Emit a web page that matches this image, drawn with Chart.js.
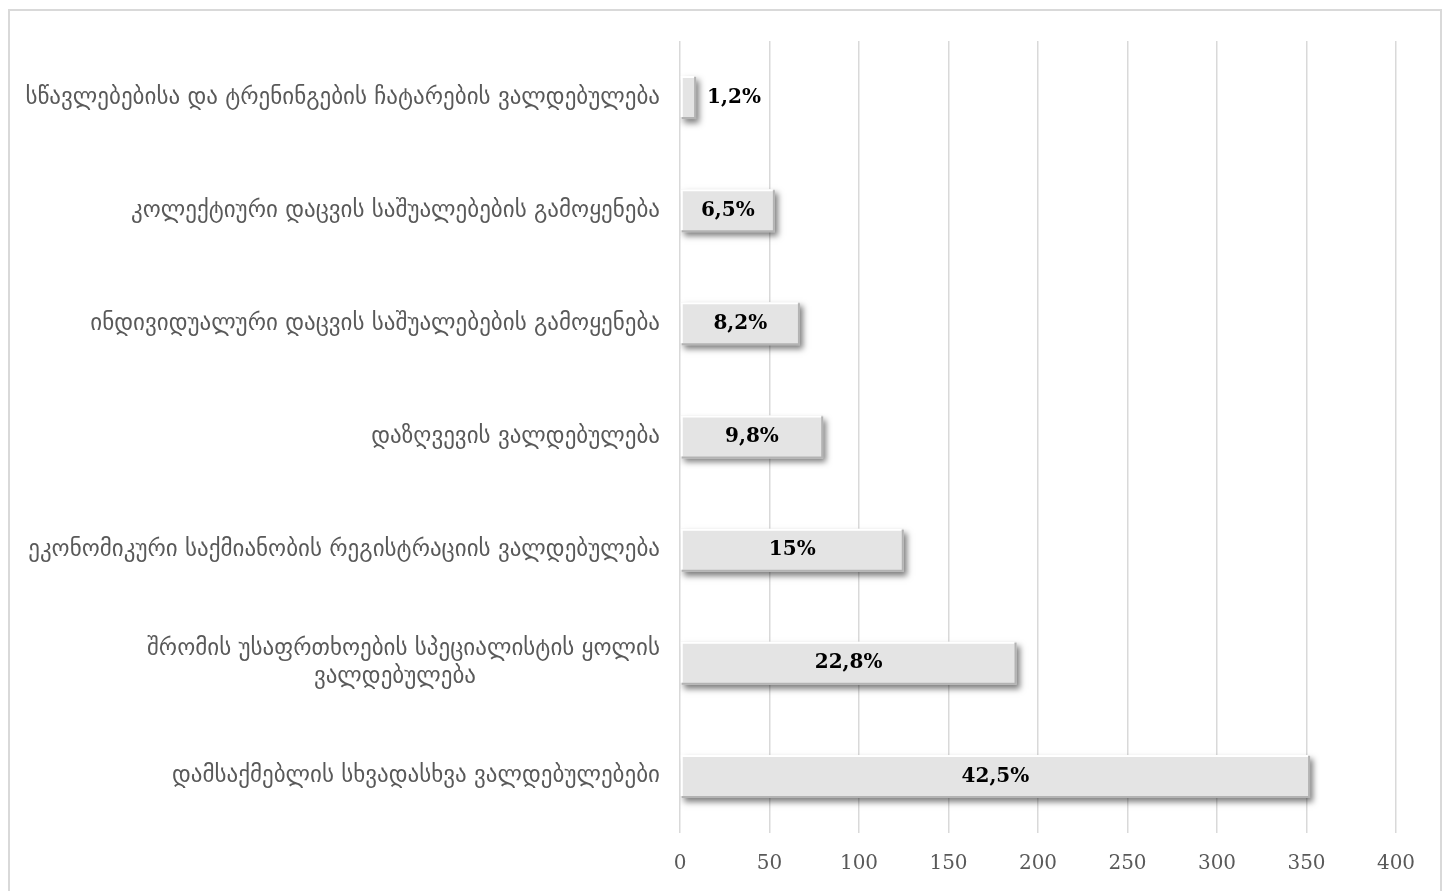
<!DOCTYPE html>
<html>
<head>
<meta charset="utf-8">
<script src="https://cdn.jsdelivr.net/npm/chart.js@4.4.1/dist/chart.umd.min.js"></script>
<style>
    html, body { margin: 0; padding: 0; background: #fff; overflow: hidden; }
    .frame {
        position: absolute; left: 8px; top: 9px; width: 1434px; height: 900px;
        border: 2px solid #d9d9d9; box-sizing: border-box;
    }
    .chart-container { position: absolute; left: 0; top: 0; width: 1452px; height: 891px; }
</style>
</head>
<body>
<div class="frame"></div>
<div class="chart-container"><canvas id="obligationsChart"></canvas></div>
<script>
// Chart data
const categories = [
    'სწავლებებისა და ტრენინგების ჩატარების ვალდებულება',
    'კოლექტიური დაცვის საშუალებების გამოყენება',
    'ინდივიდუალური დაცვის საშუალებების გამოყენება',
    'დაზღვევის ვალდებულება',
    'ეკონომიკური საქმიანობის რეგისტრაციის ვალდებულება',
    ['შრომის უსაფრთხოების სპეციალისტის ყოლის', 'ვალდებულება'],
    'დამსაქმებლის სხვადასხვა ვალდებულებები'
];
const counts = [9, 53, 67, 80, 125, 188, 352];
const shareLabels = ['1,2%', '6,5%', '8,2%', '9,8%', '15%', '22,8%', '42,5%'];
const xTicks = [0, 50, 100, 150, 200, 250, 300, 350, 400];

const labelFont = '23px "DejaVu Sans"';

document.addEventListener('DOMContentLoaded', function() {
    const ctx = document.getElementById('obligationsChart').getContext('2d');

    // center the lines of a wrapped label by padding the shorter ones
    function centerLines(lines) {
        ctx.save();
        ctx.font = labelFont;
        const widths = lines.map(l => ctx.measureText(l).width);
        const widest = Math.max(...widths);
        const em = ctx.measureText('\u2003').width;
        ctx.restore();
        return lines.map((l, i) => l + '\u2003'.repeat(Math.round((widest - widths[i]) / 2 / em)));
    }

    // shadow + bevel on the bars, then the percentage labels
    const barDecor = {
        id: 'barDecor',
        beforeDatasetsDraw(chart) {
            const c = chart.ctx;
            c.save();
            c.shadowColor = 'rgba(0, 0, 0, 0.5)';
            c.shadowBlur = 6;
            c.shadowOffsetX = 3;
            c.shadowOffsetY = 4;
        },
        afterDatasetsDraw(chart) {
            const c = chart.ctx;
            c.restore();
            const meta = chart.getDatasetMeta(0);
            c.save();
            meta.data.forEach(bar => {
                const l = bar.base, r = bar.x;
                const t = bar.y - bar.height / 2, b = bar.y + bar.height / 2;
                c.lineWidth = 2;
                c.strokeStyle = '#ffffff';
                c.beginPath();
                c.moveTo(l + 1, b - 2); c.lineTo(l + 1, t + 1); c.lineTo(r - 2, t + 1);
                c.stroke();
                c.strokeStyle = '#b3b3b3';
                c.beginPath();
                c.moveTo(r - 1, t + 1); c.lineTo(r - 1, b - 1); c.lineTo(l + 1, b - 1);
                c.stroke();
            });
            c.font = 'bold 20px "DejaVu Serif"';
            c.fillStyle = '#000';
            c.textBaseline = 'middle';
            meta.data.forEach((bar, i) => {
                const len = bar.x - bar.base;
                if (len < 40) {
                    c.textAlign = 'left';
                    c.fillText(shareLabels[i], bar.x + 11, bar.y);
                } else {
                    c.textAlign = 'center';
                    c.fillText(shareLabels[i], (bar.x + bar.base) / 2, bar.y);
                }
            });
            c.restore();
        }
    };

    new Chart(ctx, {
        type: 'bar',
        data: {
            labels: categories,
            datasets: [{
                data: counts,
                backgroundColor: '#e4e4e4',
                borderWidth: 0,
                barPercentage: 0.76,
                categoryPercentage: 0.5
            }]
        },
        options: {
            indexAxis: 'y',
            responsive: true,
            maintainAspectRatio: false,
            animation: false,
            layout: { padding: { top: 41, right: 56, left: 0, bottom: 0 } },
            plugins: {
                legend: { display: false },
                tooltip: { enabled: false }
            },
            scales: {
                x: {
                    min: 0,
                    max: 400,
                    afterBuildTicks: function(scale) {
                        scale.ticks = xTicks.map(v => ({ value: v }));
                    },
                    afterFit: function(scale) { scale.height = 58; },
                    grid: { color: '#d9d9d9', lineWidth: 1.5, drawTicks: false },
                    border: { display: false },
                    ticks: {
                        padding: 19,
                        color: '#595959',
                        font: { family: 'DejaVu Serif', size: 20 }
                    }
                },
                y: {
                    afterFit: function(scale) { scale.width = 680; },
                    grid: { display: false, drawTicks: false },
                    border: { display: false },
                    ticks: {
                        padding: 20,
                        color: '#595959',
                        font: { family: 'DejaVu Sans', size: 23 },
                        callback: function(value) {
                            const l = this.getLabelForValue(value);
                            return Array.isArray(l) ? centerLines(l) : l;
                        }
                    }
                }
            }
        },
        plugins: [barDecor]
    });
});
</script>
</body>
</html>
